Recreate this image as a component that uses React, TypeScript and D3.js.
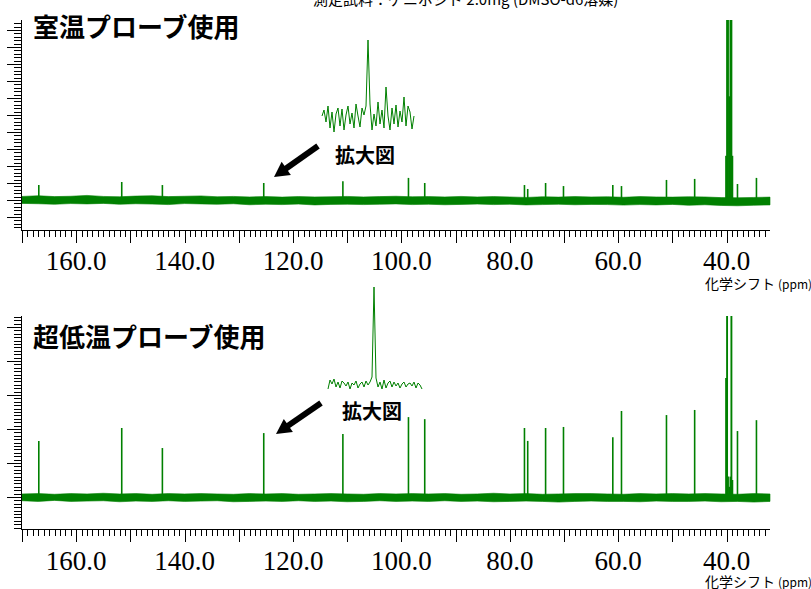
import React from 'react';
import * as d3 from 'd3';

const W = 811;
const H = 589;

// chemical shift axis (ppm)
const xLabels = [160, 140, 120, 100, 80, 60, 40];

// sample peaks (ppm) and heights for each probe
const peakPpm = [166.9, 151.6, 144.1, 125.4, 110.8, 98.7, 95.7, 77.3, 76.7, 73.4, 70.1, 61.0, 59.4, 51.1, 45.9, 38.0, 34.5];
const peakRoom = [0.88, 1.06, 0.88, 1.0, 1.1, 1.3, 1.0, 0.88, 0.65, 1.0, 0.82, 0.88, 0.82, 1.18, 1.24, 0.94, 1.3];
const peakCryo = [1.65, 2.03, 1.44, 1.88, 1.85, 2.35, 2.29, 2.03, 1.65, 2.03, 2.06, 1.76, 2.53, 2.41, 2.56, 1.94, 2.26];

// DMSO-d6 solvent multiplet
const dmsoPpm = [40.1, 39.92, 39.75, 39.52, 39.3, 39.12, 38.95];
const dmsoRoom = [2.6, 20, 20, 6.1, 20, 20, 2.6];
const dmsoCryo = [3.5, 8, 0.6, 0.3, 0.6, 8, 0.5];

// baseline noise envelope, read every 3 ppm
const noisePpm = [170, 167, 164, 161, 158, 155, 152, 149, 146, 143, 140, 137, 134, 131, 128, 125, 122, 119, 116, 113, 110, 107, 104, 101, 98, 95, 92, 89, 86, 83, 80, 77, 74, 71, 68, 65, 62, 59, 56, 53, 50, 47, 44, 41, 38, 35, 32];
const noiseRoomHi = [0.21, 0.25, 0.20, 0.22, 0.27, 0.21, 0.19, 0.23, 0.25, 0.20, 0.22, 0.24, 0.19, 0.21, 0.18, 0.20, 0.17, 0.20, 0.18, 0.19, 0.21, 0.18, 0.20, 0.22, 0.19, 0.20, 0.18, 0.21, 0.18, 0.20, 0.18, 0.15, 0.19, 0.17, 0.20, 0.18, 0.19, 0.16, 0.20, 0.18, 0.17, 0.19, 0.18, 0.14, 0.13, 0.15, 0.17];
const noiseRoomLo = [-0.20, -0.22, -0.25, -0.21, -0.23, -0.20, -0.25, -0.22, -0.24, -0.27, -0.21, -0.23, -0.25, -0.22, -0.28, -0.25, -0.27, -0.24, -0.29, -0.26, -0.25, -0.27, -0.25, -0.23, -0.27, -0.25, -0.28, -0.26, -0.24, -0.27, -0.25, -0.29, -0.27, -0.25, -0.28, -0.26, -0.27, -0.30, -0.27, -0.29, -0.26, -0.31, -0.28, -0.32, -0.34, -0.31, -0.29];
const noiseCryoHi = [0.09, 0.10, 0.08, 0.10, 0.09, 0.11, 0.09, 0.10, 0.08, 0.10, 0.09, 0.10, 0.09, 0.08, 0.10, 0.09, 0.10, 0.08, 0.09, 0.10, 0.09, 0.08, 0.10, 0.09, 0.10, 0.09, 0.10, 0.08, 0.09, 0.11, 0.09, 0.10, 0.08, 0.09, 0.10, 0.10, 0.09, 0.08, 0.10, 0.09, 0.10, 0.09, 0.10, 0.09, 0.08, 0.10, 0.09];
const noiseCryoLo = [-0.11, -0.13, -0.10, -0.13, -0.12, -0.11, -0.14, -0.12, -0.13, -0.11, -0.13, -0.12, -0.11, -0.14, -0.13, -0.12, -0.13, -0.11, -0.13, -0.12, -0.14, -0.13, -0.11, -0.13, -0.12, -0.13, -0.11, -0.13, -0.12, -0.14, -0.13, -0.12, -0.13, -0.15, -0.13, -0.12, -0.13, -0.13, -0.14, -0.12, -0.13, -0.13, -0.12, -0.14, -0.13, -0.15, -0.13];

// expanded views (拡大図)
const insetRoom = [2, 8, -4, 12, -10, 6, -14, 4, 10, -8, 9, -12, 3, 12, -6, 5, -10, 14, 2, -9, 10, 3, 12, 78, 14, -12, 4, -8, 16, -6, 8, -10, 31, 2, -12, 10, -6, 13, -9, 7, -4, 21, -8, 12, 6, -11, 2];
const insetCryo = [-4, 5, 1, 6, -2, 3, -3, 4, 2, -1, 3, -4, 2, 0, 4, -3, 1, 3, -2, 4, 0, 3, 8, 98, 7, -2, 3, -4, 5, -3, 2, 4, -2, 3, -1, 2, -3, 1, 3, -2, 1, 2, -1, 3, -3, 2, 0, -4];

const GREEN = '#008000';
const JP = '"Noto Sans CJK JP", "Noto Sans", sans-serif';
const SERIF = '"Liberation Serif", "DejaVu Serif", serif';

const x = d3.scaleLinear().domain([170, 32]).range([22, 770]);

const panels = [
  {
    id: 'room',
    title: '室温プローブ使用',
    top: 20, axisY: 230, baseY: 200, unit: 17, minor: 0.2,
    titleY: 37, labelY: 270, chemY: 289,
    peaks: peakRoom, dmso: dmsoRoom, hi: noiseRoomHi, lo: noiseRoomLo,
    inset: insetRoom, insetX: [322, 414], insetBase: 118, insetTop: 40,
    zoomText: [335, 163], arrow: [318, 146, 274, 177],
  },
  {
    id: 'cryo',
    title: '超低温プローブ使用',
    top: 316, axisY: 529, baseY: 497, unit: 34, minor: 0.1,
    titleY: 347, labelY: 570, chemY: 587,
    peaks: peakCryo, dmso: dmsoCryo, hi: noiseCryoHi, lo: noiseCryoLo,
    inset: insetCryo, insetX: [328, 422], insetBase: 385, insetTop: 287,
    zoomText: [342, 419], arrow: [321, 403, 276, 434],
  },
];

function Arrow({ a }) {
  const [x1, y1, x2, y2] = a;
  const dx = x2 - x1, dy = y2 - y1;
  const len = Math.hypot(dx, dy);
  const ux = dx / len, uy = dy / len;
  const px = -uy, py = ux;
  const hl = 15, hw = 8;
  const bx = x2 - ux * hl, by = y2 - uy * hl;
  return (
    <g>
      <line x1={x1} y1={y1} x2={bx + ux * 2} y2={by + uy * 2} stroke="#000" strokeWidth={6} />
      <polygon
        points={`${x2},${y2} ${bx + px * hw},${by + py * hw} ${bx - px * hw},${by - py * hw}`}
        fill="#000"
      />
    </g>
  );
}

function Panel({ p }) {
  const yMin = -(p.axisY - p.baseY) / p.unit;
  const yMax = (p.baseY - p.top) / p.unit;
  const y = d3.scaleLinear().domain([yMin, yMax]).range([p.axisY, p.top]);

  const band = d3
    .area<number>()
    .x(i => x(noisePpm[i]))
    .y0(i => y(p.lo[i]))
    .y1(i => y(p.hi[i]));

  const xMinor = d3.range(170, 32, -1);
  const yTicks = d3.range(Math.ceil(yMin / p.minor) * p.minor, yMax + 1e-6, p.minor);

  const ix = d3.scaleLinear().domain([0, p.inset.length - 1]).range(p.insetX);
  const iy = d3.scaleLinear().domain([0, d3.max(p.inset)]).range([p.insetBase, p.insetTop]);
  const insetLine = d3
    .line<number>()
    .x((d, i) => ix(i))
    .y(d => iy(d));

  return (
    <g>
      <clipPath id={`clip-${p.id}`}>
        <rect x={21} y={p.top} width={750} height={p.axisY - p.top} />
      </clipPath>

      <g clipPath={`url(#clip-${p.id})`}>
        <path d={band(d3.range(noisePpm.length))} fill={GREEN} stroke={GREEN} strokeWidth={0.6} />
        {peakPpm.map((ppm, i) => (
          <line key={i} x1={x(ppm)} x2={x(ppm)} y1={y(0)} y2={y(p.peaks[i])} stroke={GREEN} strokeWidth={1.6} />
        ))}
        {dmsoPpm.map((ppm, i) => (
          <line key={'d' + i} x1={x(ppm)} x2={x(ppm)} y1={y(0)} y2={y(p.dmso[i])} stroke={GREEN} strokeWidth={1.9} />
        ))}
      </g>

      {/* y axis */}
      <line x1={21} x2={21} y1={p.top} y2={p.axisY} stroke="#000" shapeRendering="crispEdges" />
      {yTicks.map((v, i) => {
        const major = Math.abs(v - Math.round(v)) < 1e-6;
        const yy = Math.round(y(v)) + 0.5;
        return <line key={i} x1={major ? 7 : 14} x2={21} y1={yy} y2={yy} stroke="#000" strokeWidth={1} />;
      })}

      {/* x axis */}
      <line x1={21} x2={770} y1={p.axisY + 0.5} y2={p.axisY + 0.5} stroke="#000" />
      {xMinor.map(v => {
        const major = v % 10 === 0;
        const xx = Math.round(x(v)) + 0.5;
        return <line key={v} x1={xx} x2={xx} y1={p.axisY} y2={p.axisY + (major ? 13 : 7)} stroke="#000" />;
      })}
      {xLabels.map(v => (
        <text key={v} x={x(v)} y={p.labelY} textAnchor="middle" style={{ fontFamily: SERIF, fontSize: 27 }}>
          {d3.format('.1f')(v)}
        </text>
      ))}
      <text x={705} y={p.chemY} style={{ fontFamily: JP, fontSize: 14 }}>
        化学シフト
        <tspan dx={3} style={{ fontSize: 12 }}>(ppm)</tspan>
      </text>

      {/* title */}
      <text x={33} y={p.titleY} style={{ fontFamily: JP, fontWeight: 'bold', fontSize: 26 }}>
        {p.title}
      </text>

      {/* expanded view */}
      <path d={insetLine(p.inset)} fill="none" stroke={GREEN} strokeWidth={1} />
      <text x={p.zoomText[0]} y={p.zoomText[1]} style={{ fontFamily: JP, fontWeight: 'bold', fontSize: 20 }}>
        拡大図
      </text>
      <Arrow a={p.arrow} />
    </g>
  );
}

export default function App() {
  return (
    <svg
      width={W}
      height={H}
      style={{ position: 'absolute', left: 0, top: 0, background: '#fff' }}
    >
      <text x={313} y={5} style={{ fontFamily: JP, fontSize: 15 }}>
        測定試料：ゲニポシド 2.0mg (DMSO-d6溶媒)
      </text>
      {panels.map(p => (
        <Panel key={p.id} p={p} />
      ))}
    </svg>
  );
}
